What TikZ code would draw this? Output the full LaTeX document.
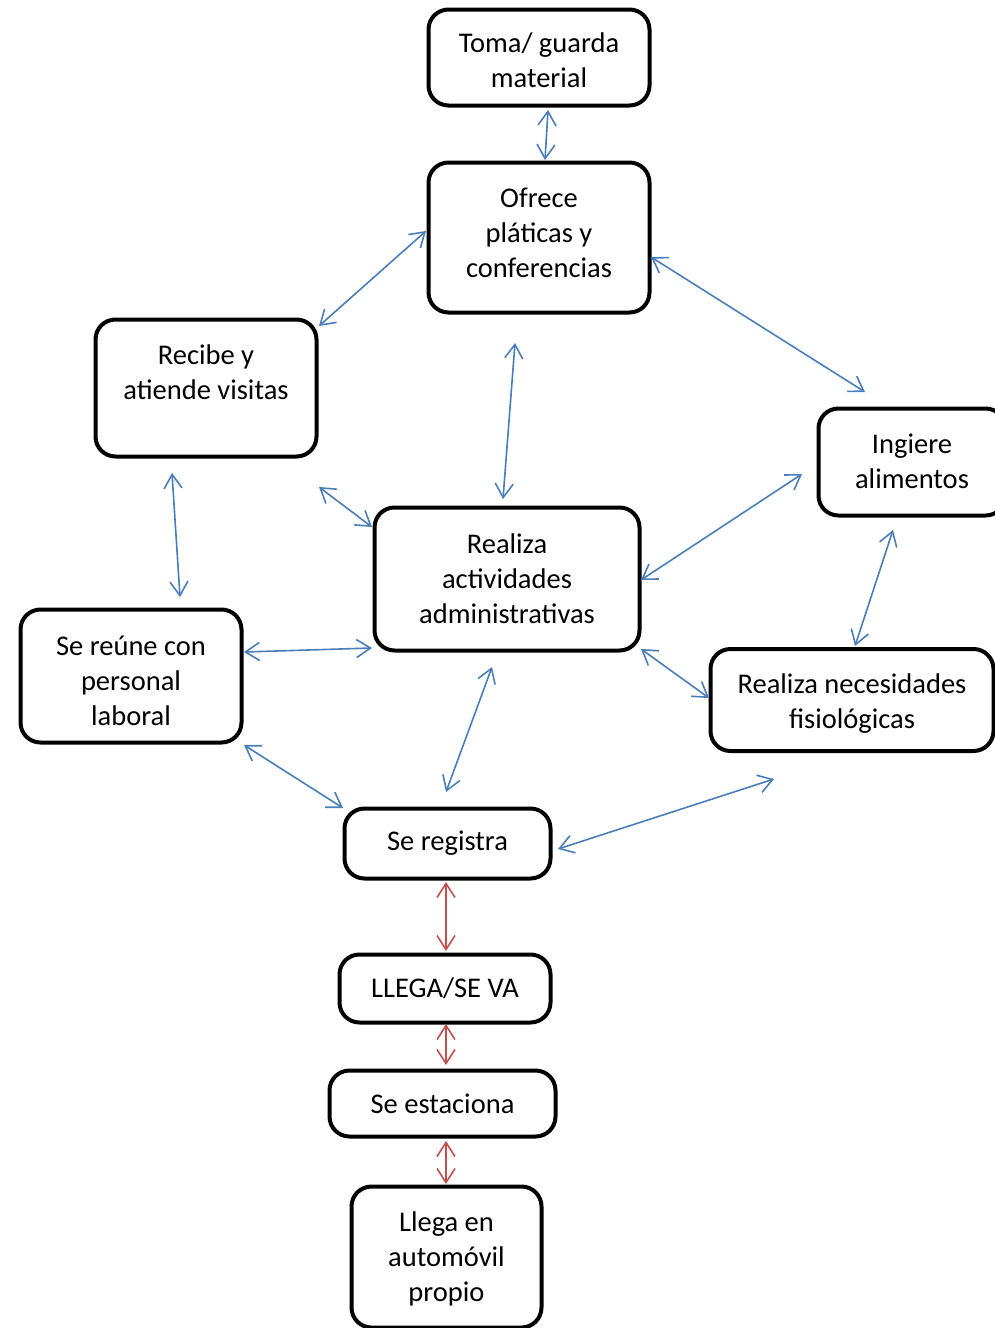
\documentclass[tikz,border=0pt]{standalone}
\usepackage{fontspec}
\setmainfont{Carlito}
\usetikzlibrary{arrows.meta}
\definecolor{lineblue}{RGB}{74,126,187}
\definecolor{linered}{RGB}{192,80,77}
\begin{document}
\begin{tikzpicture}[x=1pt, y=-1pt,
    boxStyle/.style={draw, line width=4pt, rounded corners=20pt, inner sep=0pt},
    textStyle/.style={align=center, inner sep=0pt, font=\fontsize{28.5}{35}\selectfont},
    linkStyle/.style={draw=lineblue, line width=1.6pt, {Straight Barb[length=14pt,width=18pt]}-{Straight Barb[length=14pt,width=18pt]}},
    carStyle/.style={linkStyle, draw=linered}]
    \useasboundingbox (0,0) rectangle (994,1328);

    \node[boxStyle, minimum width=221, minimum height=96, label={[textStyle, yshift=-3]center:{Toma/ guarda\\material}}](toma) at (539, 57.5) {};
    \node[boxStyle, minimum width=221, minimum height=150, label={[textStyle, yshift=5]center:{Ofrece\\pláticas y\\conferencias}}](ofrece) at (539, 237.5) {};
    \node[boxStyle, minimum width=221, minimum height=137, label={[textStyle, yshift=16]center:{Recibe y\\atiende visitas}}](recibe) at (206, 388) {};
    \node[boxStyle, minimum width=187, minimum height=107, label={[textStyle, yshift=1]center:{Ingiere\\alimentos}}](ingiere) at (912, 462) {};
    \node[boxStyle, minimum width=265, minimum height=143, label={[textStyle]center:{Realiza\\actividades\\administrativas}}](realiza) at (507, 579) {};
    \node[boxStyle, minimum width=221, minimum height=133, label={[textStyle, yshift=-5]center:{Se reúne con\\personal\\laboral}}](reune) at (131, 676) {};
    \node[boxStyle, minimum width=283, minimum height=102, label={[textStyle, yshift=-4]center:{Realiza necesidades\\fisiológicas}}](fisio) at (852, 700) {};
    \node[boxStyle, minimum width=206, minimum height=70, label={[textStyle]center:{Se registra}}](registra) at (447.5, 843.5) {};
    \node[boxStyle, minimum width=211, minimum height=68, label={[textStyle]center:{LLEGA/SE VA}}](llega) at (445, 988.5) {};
    \node[boxStyle, minimum width=226, minimum height=66, label={[textStyle]center:{Se estaciona}}](estaciona) at (442.5, 1103.5) {};
    \node[boxStyle, minimum width=190, minimum height=141, label={[textStyle, yshift=-2]center:{Llega en\\automóvil\\propio}}](auto) at (446.5, 1257) {};

    % arrow ends
    \coordinate (tomaS) at (548, 110);
    \coordinate (ofreceN) at (545, 160);
    \coordinate (ofreceW) at (426, 231);
    \coordinate (recibeNE) at (319, 326);
    \coordinate (ofreceE) at (651, 257);
    \coordinate (ingiereNW) at (865, 392);
    \coordinate (ofreceS) at (515, 343);
    \coordinate (realizaN) at (503, 499);
    \coordinate (recibeS) at (172, 473);
    \coordinate (reuneN) at (180, 597);
    \coordinate (recibeSE) at (319, 487);
    \coordinate (realizaNW) at (372, 527);
    \coordinate (ingiereW) at (802, 474);
    \coordinate (realizaE) at (641, 580);
    \coordinate (ingiereS) at (893, 530);
    \coordinate (fisioN) at (855, 646);
    \coordinate (reuneE) at (244, 652);
    \coordinate (realizaW) at (372, 648);
    \coordinate (realizaSE) at (641, 649);
    \coordinate (fisioW) at (709, 698);
    \coordinate (realizaS) at (492, 667);
    \coordinate (registraN) at (446, 792);
    \coordinate (reuneSE) at (244, 745);
    \coordinate (registraNW) at (343, 808);
    \coordinate (registraE) at (558, 849);
    \coordinate (fisioSW) at (774, 779);
    \coordinate (registraS) at (446, 882);
    \coordinate (llegaN) at (446, 951);
    \coordinate (llegaS) at (446, 1024);
    \coordinate (estacionaN) at (446, 1065);
    \coordinate (estacionaS) at (446, 1141);
    \coordinate (autoN) at (446, 1184);

    \draw[linkStyle] (tomaS) -- (ofreceN);
    \draw[linkStyle] (ofreceW) -- (recibeNE);
    \draw[linkStyle] (ofreceE) -- (ingiereNW);
    \draw[linkStyle] (ofreceS) -- (realizaN);
    \draw[linkStyle] (recibeS) -- (reuneN);
    \draw[linkStyle] (recibeSE) -- (realizaNW);
    \draw[linkStyle] (ingiereW) -- (realizaE);
    \draw[linkStyle] (ingiereS) -- (fisioN);
    \draw[linkStyle] (reuneE) -- (realizaW);
    \draw[linkStyle] (realizaSE) -- (fisioW);
    \draw[linkStyle] (realizaS) -- (registraN);
    \draw[linkStyle] (reuneSE) -- (registraNW);
    \draw[linkStyle] (registraE) -- (fisioSW);

    \draw[carStyle] (registraS) -- (llegaN);
    \draw[carStyle] (llegaS) -- (estacionaN);
    \draw[carStyle] (estacionaS) -- (autoN);
\end{tikzpicture}
\end{document}
